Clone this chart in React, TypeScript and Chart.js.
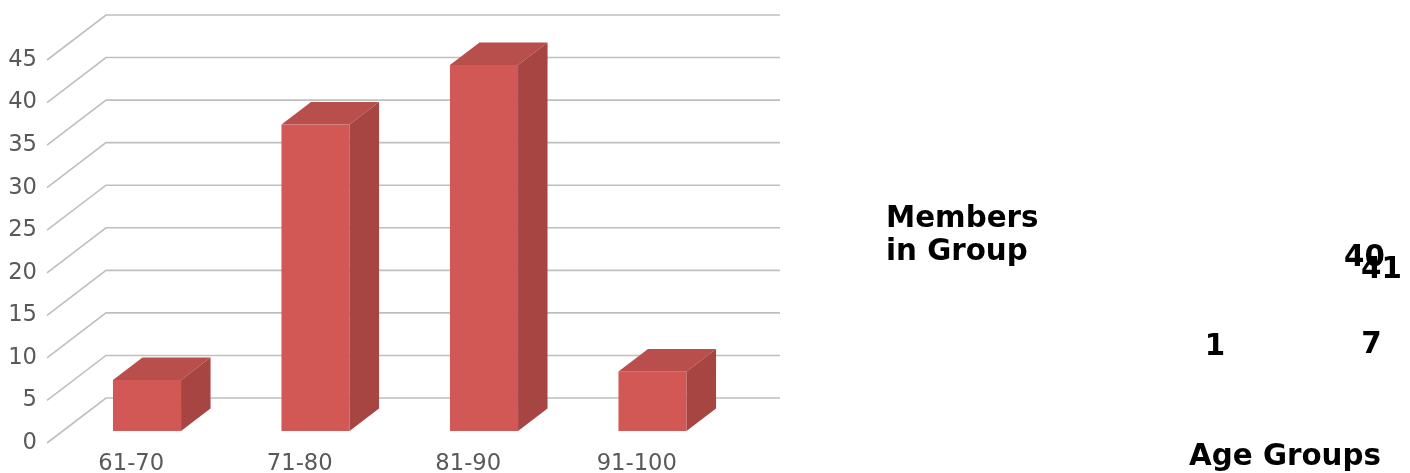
import React, { useEffect, useRef } from 'react';
import { Chart, registerables } from 'chart.js';

Chart.register(...registerables);

// ---- data ----
const categories = ['61-70', '71-80', '81-90', '91-100'];
const membersInGroup = [6, 36, 43, 7];
const yMin = 0;
const yMax = 45;
const yStep = 5;
const yAxisTitle = ['Members', 'in Group'];
const xAxisTitle = 'Age Groups';
const strayLabels = ['40', '41', '1', '7'];

// ---- 3D styling ----
const DEPTH_X = 59;
const DEPTH_Y = -45;
const BAR_FRONT = 0.267;
const BAR_BACK = 0.767;
const BAR_WIDTH_FRAC = 0.404;
const FONT = '"DejaVu Sans", Verdana, sans-serif';

const grid3d = {
  id: 'grid3d',
  beforeDatasetsDraw(chart: any) {
    const { ctx, chartArea, scales } = chart;
    const y = scales.y;
    ctx.save();
    ctx.strokeStyle = '#bfbfbf';
    ctx.lineWidth = 1.6;
    for (let v = yMin; v <= yMax; v += yStep) {
      const py = y.getPixelForValue(v);
      ctx.beginPath();
      ctx.moveTo(chartArea.left, py);
      ctx.lineTo(chartArea.left + DEPTH_X, py + DEPTH_Y);
      ctx.lineTo(chartArea.right + DEPTH_X, py + DEPTH_Y);
      ctx.stroke();
    }
    ctx.restore();
  },
};

const bars3d = {
  id: 'bars3d',
  afterDatasetsDraw(chart: any) {
    const { ctx, scales } = chart;
    const x = scales.x;
    const y = scales.y;
    const catW = x.width / categories.length;
    const w = catW * BAR_WIDTH_FRAC;
    const fdx = DEPTH_X * BAR_FRONT;
    const fdy = DEPTH_Y * BAR_FRONT;
    const bdx = DEPTH_X * (BAR_BACK - BAR_FRONT);
    const bdy = DEPTH_Y * (BAR_BACK - BAR_FRONT);
    ctx.save();
    membersInGroup.forEach((v, i) => {
      const cx = x.getPixelForValue(i) + fdx;
      const l = cx - w / 2;
      const r = cx + w / 2;
      const b = y.getPixelForValue(0) + fdy;
      const t = y.getPixelForValue(v) + fdy;
      // front face
      ctx.fillStyle = '#d25856';
      ctx.fillRect(l, t, r - l, b - t);
      // top face
      ctx.fillStyle = '#b94f4c';
      ctx.beginPath();
      ctx.moveTo(l, t);
      ctx.lineTo(l + bdx, t + bdy);
      ctx.lineTo(r + bdx, t + bdy);
      ctx.lineTo(r, t);
      ctx.closePath();
      ctx.fill();
      // side face
      ctx.fillStyle = '#a74543';
      ctx.beginPath();
      ctx.moveTo(r, t);
      ctx.lineTo(r + bdx, t + bdy);
      ctx.lineTo(r + bdx, b + bdy);
      ctx.lineTo(r, b);
      ctx.closePath();
      ctx.fill();
    });
    ctx.restore();
  },
};

const looseText = {
  id: 'looseText',
  afterDraw(chart: any) {
    const { ctx } = chart;
    ctx.save();
    ctx.fillStyle = '#000000';
    ctx.font = `bold 29.33px ${FONT}`;
    ctx.textBaseline = 'alphabetic';
    ctx.textAlign = 'left';
    ctx.fillText(yAxisTitle[0], 886, 227);
    ctx.fillText(yAxisTitle[1], 886, 260);
    ctx.textAlign = 'center';
    ctx.fillText(xAxisTitle, 1285, 465);
    const spots = [
      [1364.5, 266],
      [1381.5, 278],
      [1215, 355],
      [1371.5, 353],
    ];
    strayLabels.forEach((s, i) => {
      ctx.fillText(s, spots[i][0], spots[i][1]);
    });
    ctx.restore();
  },
};

export default function App() {
  const ref = useRef<HTMLCanvasElement | null>(null);
  useEffect(() => {
    if (!ref.current) return;
    const chart = new Chart(ref.current, {
      type: 'bar',
      data: {
        labels: categories,
        datasets: [
          {
            label: 'Members in Group',
            data: membersInGroup,
            backgroundColor: 'rgba(0,0,0,0)',
            borderWidth: 0,
          },
        ],
      },
      options: {
        responsive: false,
        animation: false,
        devicePixelRatio: 1,
        layout: { padding: { top: 60, right: 689, left: 0, bottom: 0 } },
        plugins: {
          legend: { display: false },
          tooltip: { enabled: false },
          title: { display: false },
        },
        scales: {
          x: {
            grid: { display: false, drawTicks: false },
            border: { display: false },
            ticks: {
              color: '#595959',
              font: { family: FONT, size: 22.67 },
              padding: 8,
              maxRotation: 0,
              autoSkip: false,
            },
            afterFit(scale: any) {
              scale.height = 30;
            },
          },
          y: {
            min: yMin,
            max: yMax,
            grid: { display: false, drawTicks: false },
            border: { display: false },
            ticks: {
              stepSize: yStep,
              color: '#595959',
              font: { family: FONT, size: 22.67 },
              padding: 10,
            },
            afterFit(scale: any) {
              scale.width = 47;
            },
          },
        },
      },
      plugins: [grid3d, bars3d, looseText],
    });
    return () => chart.destroy();
  }, []);
  return (
    <div style={{ position: 'absolute', left: 0, top: 0, width: 1410, height: 473, background: '#ffffff' }}>
      <canvas ref={ref} width={1410} height={473} />
    </div>
  );
}
